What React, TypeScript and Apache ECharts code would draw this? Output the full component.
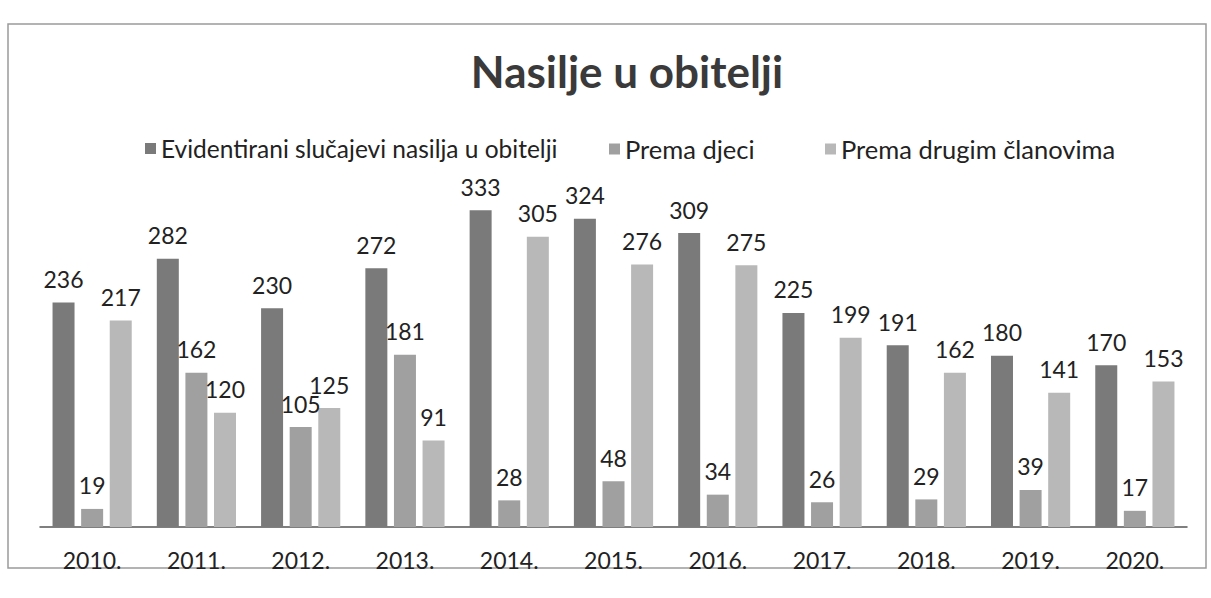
import React, { useEffect, useRef } from "react";
import * as echarts from "echarts";

const categories = ["2010.", "2011.", "2012.", "2013.", "2014.", "2015.", "2016.", "2017.", "2018.", "2019.", "2020."];
const seriesNames = ["Evidentirani slučajevi nasilja u obitelji", "Prema djeci", "Prema drugim članovima"];
const evidentirani = [236, 282, 230, 272, 333, 324, 309, 225, 191, 180, 170];
const premaDjeci = [19, 162, 105, 181, 28, 48, 34, 26, 29, 39, 17];
const premaDrugim = [217, 120, 125, 91, 305, 276, 275, 199, 162, 141, 153];
const colors = ["#7a7a7a", "#a0a0a0", "#b8b8b8"];
const legendLefts = [140, 604, 820];

export default function App() {
  const ref = useRef<HTMLDivElement>(null);
  useEffect(() => {
    if (!ref.current) return;
    const chart = echarts.init(ref.current, undefined, { renderer: "svg" });
    const font = "Lato, 'Noto Sans', sans-serif";
    const mk = (name: string, data: number[], color: string) => ({
      name,
      type: "bar",
      data,
      barWidth: 22,
      barGap: "30%",
      itemStyle: { color },
      label: {
        show: true,
        position: "top",
        distance: 12,
        color: "#222",
        fontSize: 23,
        fontFamily: font,
      },
    });
    chart.setOption({
      animation: false,
      backgroundColor: "#ffffff",
      title: {
        text: "Nasilje u obitelji",
        left: 622,
        textAlign: "center",
        top: 44,
        textStyle: { fontSize: 44, fontWeight: "bold", color: "#3a3a3a", fontFamily: font },
      },
      legend: seriesNames.map((n, i) => ({
        top: 131,
        left: legendLefts[i],
        itemWidth: 11,
        itemHeight: 11,
        icon: "rect",
        textStyle: { fontSize: i === 0 ? 24.5 : 25.5, color: "#222", fontFamily: font },
        data: [n],
      })),
      graphic: [
        {
          type: "rect",
          shape: { x: 8, y: 24, width: 1198, height: 544 },
          style: { fill: "none", stroke: "#9a9a9a", lineWidth: 1.5 },
          silent: true,
        },
      ],
      grid: { left: 40, right: 24, top: 194, bottom: 71, containLabel: false },
      xAxis: {
        type: "category",
        data: categories,
        axisTick: { show: false },
        axisLine: { lineStyle: { color: "#555", width: 1.5 } },
        axisLabel: { fontSize: 23, color: "#222", margin: 21, fontFamily: font },
      },
      yAxis: {
        type: "value",
        min: 0,
        max: 350,
        show: false,
        splitLine: { show: false },
      },
      series: [
        mk(seriesNames[0], evidentirani, colors[0]),
        mk(seriesNames[1], premaDjeci, colors[1]),
        mk(seriesNames[2], premaDrugim, colors[2]),
      ],
    });
    return () => chart.dispose();
  }, []);
  return <div ref={ref} style={{ position: "fixed", left: 0, top: 0, width: 1211, height: 598 }} />;
}
